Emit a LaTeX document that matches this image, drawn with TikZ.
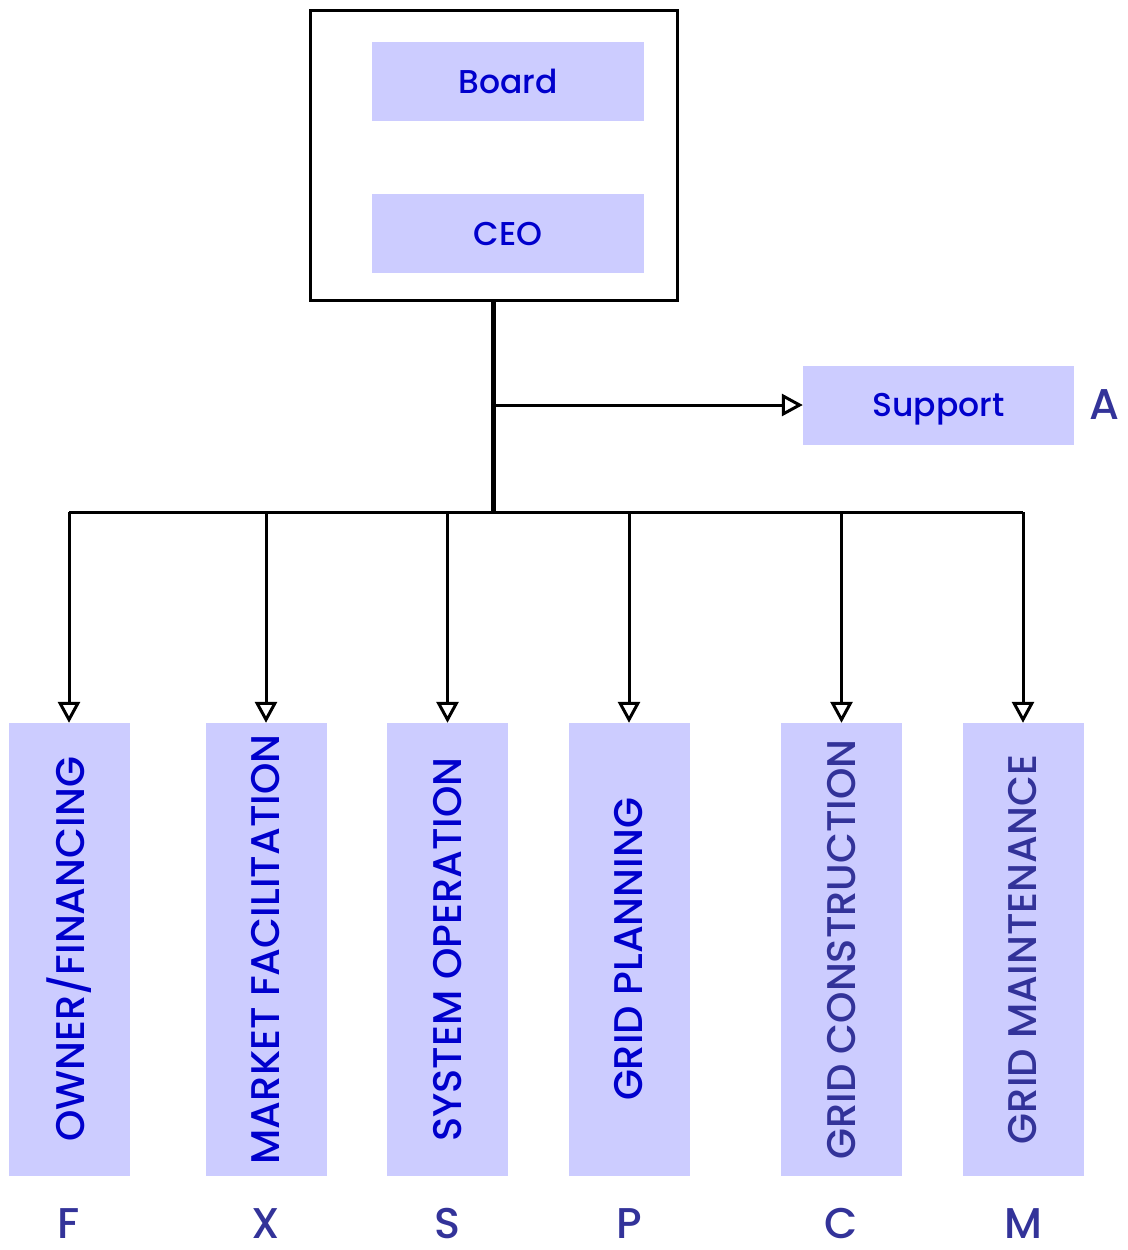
\documentclass[tikz,border=0pt]{standalone}
\usepackage{fontspec}
\setmainfont{Poppins}[UprightFont=* Medium]
\usetikzlibrary{positioning}
\usetikzlibrary{arrows.meta}

\definecolor{boxfill}{RGB}{204,204,255}
\definecolor{textblue}{RGB}{0,0,204}
\definecolor{textslate}{RGB}{51,51,153}

\begin{document}
\begin{tikzpicture}
[
x=1pt, y=-1pt,
frame-a/.style={draw,line width=3pt,minimum width=367pt,minimum height=290pt},
box-a/.style={fill=boxfill,inner sep=0pt,minimum width=272pt,minimum height=79pt,
              text=textblue,font=\fontsize{33}{40}\selectfont},
unit-a/.style={fill=boxfill,inner sep=0pt,minimum width=453pt,minimum height=121pt,
               rotate=90,font=\fontsize{40}{44}\selectfont},
letter-a/.style={inner sep=0pt,text=textslate,font=\fontsize{43}{48}\selectfont},
link-a/.style={line width=3pt,-{Triangle[open,length=21pt,width=22pt]}},
]
\useasboundingbox (0,0) rectangle (1127,1250);

% top
\node (frame)   [frame-a] at (493.5,155)             {};
\node (board)   [box-a]   at (508,81.5)              {Board};
\node (ceo)     [box-a,   below = 73pt of board]     {CEO};
\node (support) [box-a,   minimum width=271pt, text depth=0pt] at (938.5,405) {Support};
\node (la)      [letter-a, right = 15pt of support]  {A};

% units
\node (f-box) [unit-a, text=textblue]  at (69,949.5)    {OWNER/FINANCING};
\node (x-box) [unit-a, text=textblue]  at (266,949.5)   {MARKET FACILITATION};
\node (s-box) [unit-a, text=textblue]  at (447.5,949.5) {SYSTEM OPERATION};
\node (p-box) [unit-a, text=textblue]  at (629,949.5)   {GRID PLANNING};
\node (c-box) [unit-a, text=textslate] at (841.5,949.5) {GRID CONSTRUCTION};
\node (m-box) [unit-a, text=textslate] at (1023,949.5)  {GRID MAINTENANCE};

\node (lf) [letter-a, below = 32pt of f-box.west] {F};
\node (lx) [letter-a, below = 32pt of x-box.west] {X};
\node (ls) [letter-a, below = 32pt of s-box.west] {S};
\node (lp) [letter-a, below = 32pt of p-box.west] {P};
\node (lc) [letter-a, below = 32pt of c-box.west] {C};
\node (lm) [letter-a, below = 32pt of m-box.west] {M};

% lines
\coordinate (tap) at (493.5,405);
\coordinate (hub) at (493.5,512);
\draw [line width=4.5pt] (frame.south) -- (hub);
\draw [link-a] (tap) -- (support.west);
\draw [line width=3pt] (f-box.east |- hub) -- (m-box.east |- hub);
\draw [link-a] (f-box.east |- hub) -- (f-box.east);
\draw [link-a] (x-box.east |- hub) -- (x-box.east);
\draw [link-a] (s-box.east |- hub) -- (s-box.east);
\draw [link-a] (p-box.east |- hub) -- (p-box.east);
\draw [link-a] (c-box.east |- hub) -- (c-box.east);
\draw [link-a] (m-box.east |- hub) -- (m-box.east);
\end{tikzpicture}
\end{document}
